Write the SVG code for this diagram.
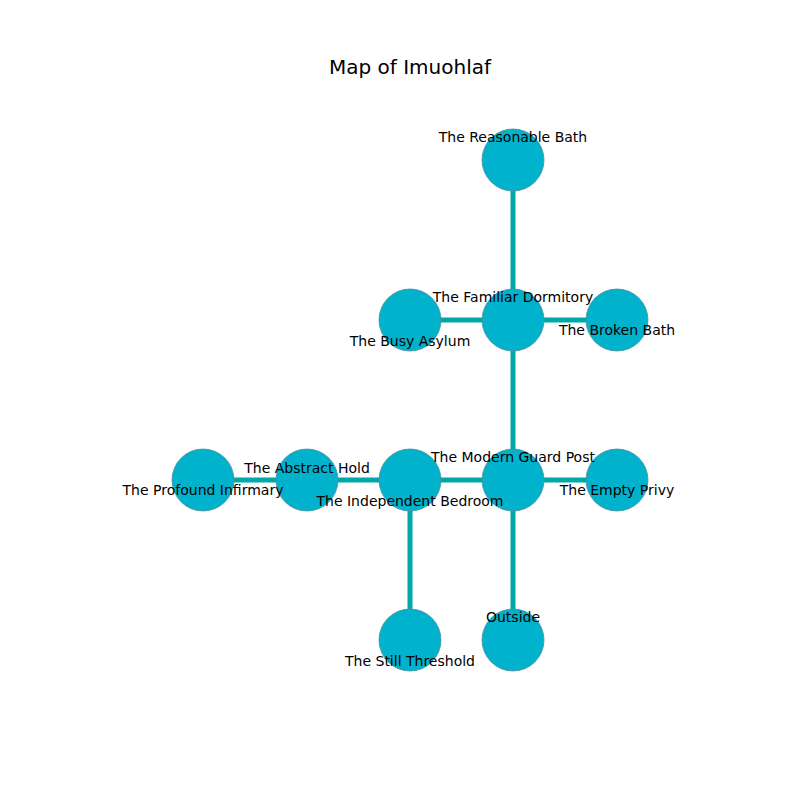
<svg xmlns="http://www.w3.org/2000/svg" width="800" height="800" viewBox="0 0 800 800">
<style>
.n{fill:#00b2cc;stroke:#4a8f9a;stroke-width:0.8}
.e{stroke:#00a8a8;stroke-width:5;fill:none}
text{font-family:"DejaVu Sans",sans-serif;font-size:14px;fill:#000;text-anchor:middle;dominant-baseline:central}
.t{font-size:20px}
</style>
<rect width="800" height="800" fill="#fff"/>
<text class="t" x="410" y="67">Map of Imuohlaf</text>
<g id="edges">
<line class="e" x1="513" y1="160" x2="513" y2="320"/>
<line class="e" x1="410" y1="320" x2="617" y2="320"/>
<line class="e" x1="513" y1="320" x2="513" y2="480"/>
<line class="e" x1="513" y1="480" x2="617" y2="480"/>
<line class="e" x1="410" y1="480" x2="513" y2="480"/>
<line class="e" x1="513" y1="480" x2="513" y2="640"/>
<line class="e" x1="203" y1="480" x2="410" y2="480"/>
<line class="e" x1="410" y1="480" x2="410" y2="640"/>
</g>
<g id="reasonable-bath"><circle class="n" cx="513" cy="160" r="31"/><text x="513" y="137">The Reasonable Bath</text></g>
<g id="familiar-dormitory"><circle class="n" cx="513" cy="320" r="31"/></g>
<g id="busy-asylum"><circle class="n" cx="410" cy="320" r="31"/><text x="410" y="341">The Busy Asylum</text></g>
<g id="broken-bath"><circle class="n" cx="617" cy="320" r="31"/><text x="617" y="330">The Broken Bath</text></g>
<g id="modern-guard-post"><circle class="n" cx="513" cy="480" r="31"/></g>
<g id="empty-privy"><circle class="n" cx="617" cy="480" r="31"/><text x="617" y="490">The Empty Privy</text></g>
<g id="independent-bedroom"><circle class="n" cx="410" cy="480" r="31"/></g>
<g id="abstract-hold"><circle class="n" cx="307" cy="480" r="31"/></g>
<g id="profound-infirmary"><circle class="n" cx="203" cy="480" r="31"/></g>
<g id="still-threshold"><circle class="n" cx="410" cy="640" r="31"/><text x="410" y="661">The Still Threshold</text></g>
<g id="outside"><circle class="n" cx="513" cy="640" r="31"/><text x="513" y="617">Outside</text></g>
<g id="labels">
<text x="513" y="297">The Familiar Dormitory</text>
<text x="513" y="457">The Modern Guard Post</text>
<text x="410" y="501">The Independent Bedroom</text>
<text x="307" y="468">The Abstract Hold</text>
<text x="203" y="490">The Profound Infirmary</text>
</g>
</svg>
